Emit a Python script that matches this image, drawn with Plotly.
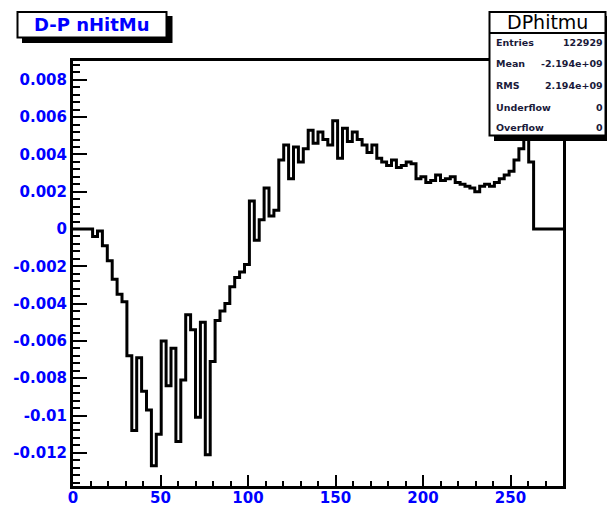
import numpy as np
import plotly.graph_objects as go

# ---------------- data ----------------
x_min, x_max, n_bins = 0.0, 280.0, 100
bin_values = [
    0.0, 0.0, 0.0, 0.0, -0.0004, -0.0001, -0.0009, -0.0017, -0.0027, -0.0035,
    -0.0039, -0.0068, -0.0108, -0.0069, -0.0087, -0.0097, -0.0127, -0.0110, -0.0060, -0.0084,
    -0.0064, -0.0114, -0.0081, -0.0046, -0.0054, -0.0101, -0.0050, -0.0121, -0.0071, -0.0049,
    -0.0044, -0.0040, -0.0031, -0.0026, -0.0023, -0.0019, 0.0015, -0.0006, 0.0005, 0.0022,
    0.0007, 0.0010, 0.0037, 0.0045, 0.0027, 0.0044, 0.0036, 0.0043, 0.0053, 0.0046,
    0.0052, 0.0048, 0.0045, 0.0058, 0.0038, 0.0054, 0.0047, 0.0052, 0.0048, 0.0045,
    0.0041, 0.0045, 0.0038, 0.0036, 0.0034, 0.0037, 0.0033, 0.0034, 0.0036, 0.0035,
    0.0027, 0.0028, 0.0025, 0.0026, 0.0029, 0.0026, 0.0027, 0.0028, 0.0025, 0.0024,
    0.0023, 0.0022, 0.0020, 0.0023, 0.0024, 0.0023, 0.0025, 0.0027, 0.0029, 0.0031,
    0.0037, 0.0043, 0.0056, 0.0036, 0.0, 0.0, 0.0, 0.0, 0.0, 0.0,
]
x_tick_vals = [0, 50, 100, 150, 200, 250]
x_tick_text = ["0", "50", "100", "150", "200", "250"]
y_tick_vals = [-0.012, -0.010, -0.008, -0.006, -0.004, -0.002, 0.0, 0.002, 0.004, 0.006, 0.008]
y_tick_text = ["-0.012", "-0.01", "-0.008", "-0.006", "-0.004", "-0.002", "0",
               "0.002", "0.004", "0.006", "0.008"]
hist_title = "D-P nHitMu"
stats_title = "DPhitmu"
stats_labels = ["Entries", "Mean", "RMS", "Underflow", "Overflow"]
stats_values = ["122929", "-2.194e+09", "2.194e+09", "0", "0"]

# ---------------- layout helpers ----------------
W, H = 607, 507
L, R, T, B = 73, 563, 61, 486
y_lo, y_hi = -0.01378, 0.00901


def xp(px):
    return (px - L) / (R - L)


def yp(py):
    return (B - py) / (B - T)


edges = np.linspace(x_min, x_max, n_bins + 1)
step_y = list(bin_values) + [bin_values[-1]]

fig = go.Figure()
fig.add_trace(go.Scatter(
    x=edges, y=step_y, mode="lines", line=dict(color="black", width=3, shape="hv"),
    showlegend=False, hoverinfo="skip",
))

tick_font = dict(family="DejaVu Sans", size=15, color="#0000ff", weight="bold")

fig.update_xaxes(
    range=[x_min, x_max], showgrid=False, zeroline=False,
    showline=True, linecolor="black", linewidth=3, mirror=True,
    tickmode="array", tickvals=x_tick_vals, ticktext=x_tick_text,
    ticks="inside", ticklen=11, tickwidth=2, tickcolor="black",
    minor=dict(ticks="inside", ticklen=5, tickwidth=2, tickcolor="black",
               tickvals=list(np.arange(0, 281, 10))),
    tickfont=tick_font, ticklabelstandoff=-4,
)
fig.update_yaxes(
    range=[y_lo, y_hi], showgrid=False, zeroline=False,
    showline=True, linecolor="black", linewidth=3, mirror=True,
    tickmode="array", tickvals=y_tick_vals, ticktext=y_tick_text,
    ticks="inside", ticklen=14, tickwidth=2, tickcolor="black",
    minor=dict(ticks="inside", ticklen=7, tickwidth=2, tickcolor="black",
               tickvals=list(np.round(np.arange(-0.0136, 0.0090, 0.0004), 5))),
    tickfont=tick_font,
)

shapes = [
    # title box
    dict(type="rect", xref="paper", yref="paper", x0=xp(22), x1=xp(172.5), y0=yp(43), y1=yp(16),
         fillcolor="black", line=dict(width=0), layer="above"),
    dict(type="rect", xref="paper", yref="paper", x0=xp(17.5), x1=xp(166.5), y0=yp(37.5), y1=yp(12),
         fillcolor="white", line=dict(color="black", width=2), layer="above"),
    # stats box
    dict(type="rect", xref="paper", yref="paper", x0=xp(494), x1=xp(615), y0=yp(141), y1=yp(16),
         fillcolor="black", line=dict(width=0), layer="above"),
    dict(type="rect", xref="paper", yref="paper", x0=xp(489.5), x1=xp(605.5), y0=yp(135.5), y1=yp(12),
         fillcolor="white", line=dict(color="black", width=2), layer="above"),
    dict(type="line", xref="paper", yref="paper", x0=xp(489.5), x1=xp(605.5), y0=yp(33), y1=yp(33),
         line=dict(color="black", width=2), layer="above"),
]

annotations = [
    dict(xref="paper", yref="paper", x=xp(92), y=yp(24.5), text=hist_title, showarrow=False,
         xanchor="center", yanchor="middle",
         font=dict(family="DejaVu Sans", size=18, color="#0000ff", weight="bold")),
    dict(xref="paper", yref="paper", x=xp(547.5), y=yp(22), text=stats_title, showarrow=False,
         xanchor="center", yanchor="middle",
         font=dict(family="DejaVu Sans", size=19, color="black")),
]
row_y = [42, 63.5, 85.5, 107, 128]
for lab, val, py in zip(stats_labels, stats_values, row_y):
    annotations.append(dict(xref="paper", yref="paper", x=xp(494), y=yp(py), text=lab,
                            showarrow=False, xanchor="left", yanchor="middle",
                            font=dict(family="DejaVu Sans", size=9.5, color="#1a1a3a", weight="bold")))
    annotations.append(dict(xref="paper", yref="paper", x=xp(604.5), y=yp(py), text=val,
                            showarrow=False, xanchor="right", yanchor="middle",
                            font=dict(family="DejaVu Sans", size=9.5, color="#1a1a3a", weight="bold")))

fig.update_layout(
    width=W, height=H,
    margin=dict(l=L, r=W - R, t=T, b=H - B, autoexpand=False),
    paper_bgcolor="white", plot_bgcolor="white",
    shapes=shapes, annotations=annotations,
)

fig.write_html(
    "out.html",
    config={"displayModeBar": False},
    post_script="document.body.style.margin='0px';document.body.style.overflow='hidden';",
)
